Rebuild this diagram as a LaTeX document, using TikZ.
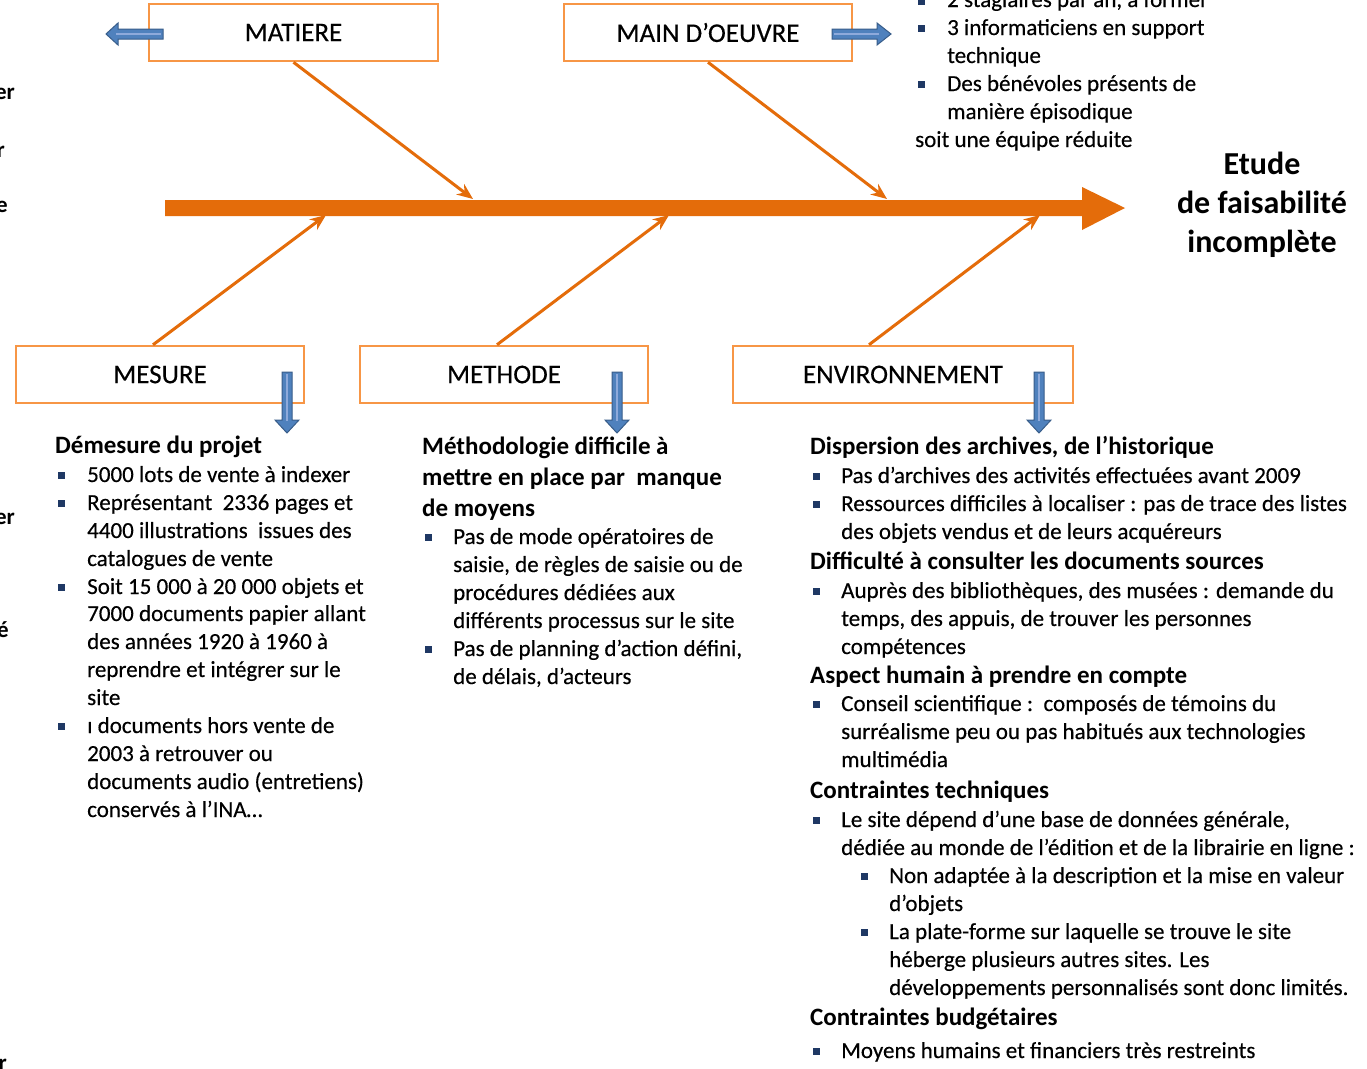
\documentclass[tikz,border=0pt]{standalone}
\usepackage{fontspec}
\setmainfont{Carlito}
\newfontfamily\heavyfont{Carlito}[FakeBold=0.35]
\usetikzlibrary{arrows.meta}
\definecolor{spine}{HTML}{E46C0A}
\definecolor{boxline}{HTML}{F79646}
\definecolor{blk}{HTML}{4F81BD}
\definecolor{blkdark}{HTML}{385D8A}
\definecolor{blklight}{HTML}{8EAADB}
\definecolor{bulc}{HTML}{1F3864}
\newcounter{lnc}
\newcommand\Ln[3]{\stepcounter{lnc}\node[txt] (ln\arabic{lnc}) at (#1,#2) {#3};}
\newcommand\Hd[3]{\stepcounter{lnc}\node[hd] (ln\arabic{lnc}) at (#1,#2) {#3};}
\newcommand\Bu[2]{\stepcounter{lnc}\node[bul] (bu\arabic{lnc}) at (#1,#2) {};}
\tikzset{
  txt/.style={anchor=base west, inner sep=0pt, font=\heavyfont\fontsize{23}{28}\selectfont},
  hd/.style={anchor=base west, inner sep=0pt, font=\fontsize{25}{30}\selectfont\bfseries},
  bul/.style={rectangle, fill=bulc, minimum size=7pt, inner sep=0pt},
  cat/.style={draw=boxline, line width=2.5pt, fill=white, minimum height=57pt, inner sep=0pt, font=\heavyfont\fontsize{27}{30}\selectfont},
  rib/.style={draw=spine, line width=3pt, -{Stealth[length=16pt,width=13pt]}},
  blockarrow/.style={fill=blk, draw=blkdark, line width=1pt},
  frag/.style={anchor=base east, inner sep=0pt, font=\fontsize{23}{28}\selectfont\bfseries},
}
\begin{document}
\begin{tikzpicture}[x=1pt,y=-1pt]
\useasboundingbox (0,0) rectangle (1367,1068);
\clip (0,0) rectangle (1367,1068);
\fill[white] (0,0) rectangle (1367,1068);

% clipped fragments at the left edge (the reference shows them cut off)
\node[frag] (fr1) at (15,99) {er};
\node[frag] (fr2) at (5,157) {r};
\node[frag] (fr3) at (8,212) {e};
\node[frag] (fr4) at (15,524) {er};
\node[frag] (fr5) at (9,637) {é};
\node[frag] (fr6) at (7,1070) {r};

% spine
\coordinate (sp0) at (165,208);
\coordinate (sptip) at (1125,208);
\fill[spine] (165,200) -- (1082,200) -- (1082,187) -- (1125,208) -- (1082,230) -- (1082,216) -- (165,216) -- cycle;

% category boxes
\node[cat, minimum width=289pt] (mat) at (293.5,32.5) {MATIERE};
\node[cat, minimum width=288pt] (mo) at (708,32.5) {MAIN D’OEUVRE};
\node[cat, minimum width=288pt] (mes) at (160,374.5) {MESURE};
\node[cat, minimum width=288pt] (met) at (504,374.5) {METHODE};
\node[cat, minimum width=340pt] (env) at (903,374.5) {ENVIRONNEMENT};

% ribs
\coordinate (rA) at (473,199);
\coordinate (rB) at (887,199);
\coordinate (rC) at (326,215);
\coordinate (rD) at (669,215);
\coordinate (rE) at (1040,215);
\draw[rib] (mat.south) -- (rA);
\draw[rib] (mo.south) -- (rB);
\draw[rib] ([xshift=-7pt]mes.north) -- (rC);
\draw[rib] ([xshift=-7pt]met.north) -- (rD);
\draw[rib] ([xshift=-34pt]env.north) -- (rE);

% blue block arrows
\filldraw[blockarrow] (163,29) -- (118,29) -- (118,23) -- (106,34) -- (118,45) -- (118,39) -- (163,39) -- cycle;
\draw[blklight, line width=1.5pt] (161,34) -- (116,34);
\filldraw[blockarrow] (832,29) -- (877,29) -- (877,23) -- (891,34) -- (877,45) -- (877,39) -- (832,39) -- cycle;
\draw[blklight, line width=1.5pt] (834,34) -- (879,34);
\foreach \cx in {287,617,1039}{
  \filldraw[blockarrow] (\cx-5,372) -- (\cx+5,372) -- (\cx+5,420) -- (\cx+12,420) -- (\cx,433) -- (\cx-12,420) -- (\cx-5,420) -- cycle;
  \draw[blklight, line width=1.5pt] (\cx,374) -- (\cx,421);
}

% effect
\node[font=\fontsize{32}{39}\selectfont\bfseries, align=center, inner sep=0pt] (eff) at (1262,205) {Etude\\de faisabilité\\incomplète};

% MAIN D'OEUVRE text
\Bu{921}{1}\Ln{947}{7}{2 stagiaires par an, à former}
\Bu{921}{28}\Ln{947}{35}{3 informaticiens en support}
\Ln{947}{63}{technique}
\Bu{921}{84}\Ln{947}{91}{Des bénévoles présents de}
\Ln{947}{119}{manière épisodique}
\Ln{915}{147}{soit une équipe réduite}

% MESURE text
\Hd{55}{453}{Démesure du projet}
\Bu{61}{475}\Ln{87}{482}{5000 lots de vente à indexer}
\Bu{61}{503}\Ln{87}{510}{Représentant\ \ 2336 pages et}
\Ln{87}{538}{4400 illustrations\ \ issues des}
\Ln{87}{566}{catalogues de vente}
\Bu{61}{587}\Ln{87}{594}{Soit 15 000 à 20 000 objets et}
\Ln{87}{621}{7000 documents papier allant}
\Ln{87}{649}{des années 1920 à 1960 à}
\Ln{87}{677}{reprendre et intégrer sur le}
\Ln{87}{705}{site}
\Bu{61}{726}\Ln{87}{733}{ı documents hors vente de}
\Ln{87}{761}{2003 à retrouver ou}
\Ln{87}{789}{documents audio (entretiens)}
\Ln{87}{817}{conservés à l’INA…}

% METHODE text
\Hd{422}{454}{Méthodologie difficile à}
\Hd{422}{485}{mettre en place par\ \ manque}
\Hd{422}{516}{de moyens}
\Bu{428}{537}\Ln{453}{544}{Pas de mode opératoires de}
\Ln{453}{572}{saisie, de règles de saisie ou de}
\Ln{453}{600}{procédures dédiées aux}
\Ln{453}{628}{différents processus sur le site}
\Bu{428}{649}\Ln{453}{656}{Pas de planning d’action défini,}
\Ln{453}{684}{de délais, d’acteurs}

% ENVIRONNEMENT text
\Hd{810}{454}{Dispersion des archives, de l’historique}
\Bu{816}{476}\Ln{841}{483}{Pas d’archives des activités effectuées avant 2009}
\Bu{816}{504}\Ln{841}{511}{Ressources difficiles à localiser : pas de trace des listes}
\Ln{841}{539}{des objets vendus et de leurs acquéreurs}
\Hd{810}{569}{Difficulté à consulter les documents sources}
\Bu{816}{591}\Ln{841}{598}{Auprès des bibliothèques, des musées : demande du}
\Ln{841}{626}{temps, des appuis, de trouver les personnes}
\Ln{841}{654}{compétences}
\Hd{810}{683}{Aspect humain à prendre en compte}
\Bu{816}{704}\Ln{841}{711}{Conseil scientifique :\ \ composés de témoins du}
\Ln{841}{739}{surréalisme peu ou pas habitués aux technologies}
\Ln{841}{767}{multimédia}
\Hd{810}{798}{Contraintes techniques}
\Bu{816}{820}\Ln{841}{827}{Le site dépend d’une base de données générale,}
\Ln{841}{855}{dédiée au monde de l’édition et de la librairie en ligne :}
\Bu{864}{876}\Ln{889}{883}{Non adaptée à la description et la mise en valeur}
\Ln{889}{911}{d’objets}
\Bu{864}{932}\Ln{889}{939}{La plate-forme sur laquelle se trouve le site}
\Ln{889}{967}{héberge plusieurs autres sites. Les}
\Ln{889}{995}{développements personnalisés sont donc limités.}
\Hd{810}{1025}{Contraintes budgétaires}
\Bu{816}{1051}\Ln{841}{1058}{Moyens humains et financiers très restreints}
\end{tikzpicture}
\end{document}
